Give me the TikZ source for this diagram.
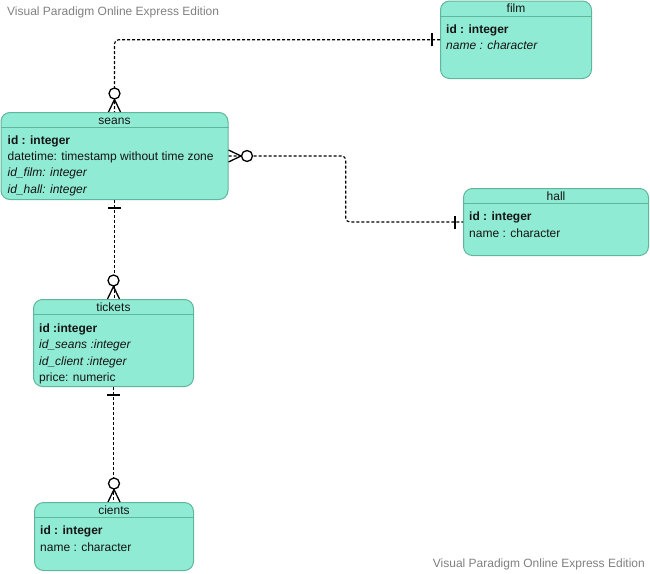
\documentclass[tikz,border=0pt]{standalone}
\usepackage{fontspec}
\setmainfont{Liberation Sans}
\usetikzlibrary{calc}

\definecolor{entityfill}{RGB}{144,235,212}
\definecolor{entityline}{RGB}{96,182,154}
\definecolor{txt}{RGB}{20,20,20}
\definecolor{markgray}{RGB}{128,128,128}

\begin{document}
\begin{tikzpicture}[x=1pt,y=-1pt]

    \tikzset{
      entity/.style={
        draw=entityline,
        fill=entityfill,
        line width=1pt,
        rounded corners=9pt,
        inner sep=0pt,
        anchor=north west,
      },
      enttitle/.style={font=\fontsize{12}{14}\selectfont, text=txt, anchor=base, inner sep=0pt},
      rows/.style={font=\fontsize{12}{16.3}\selectfont, text=txt, align=left, anchor=north west, inner sep=0pt},
      watermark/.style={font=\fontsize{12}{14}\selectfont, text=markgray, inner sep=0pt},
      rel/.style={dash pattern=on 3pt off 2pt, line width=1.1pt, rounded corners=4pt},
      one/.pic={\draw[line width=1.4pt] (8,-6.5) -- (8,6.5);},
      many/.pic={
        \draw[line width=1.3pt] (0,-6) -- (12.5,0) -- (0,6);
        \draw[line width=1.3pt, fill=white] (18.5,0) circle (5.5);
      },
    }
    \useasboundingbox (0,0) rectangle (650,573);

    % entities
    \node[entity, minimum width=151, minimum height=77.5] (film) at (440,0.5) {};
    \node[entity, minimum width=227, minimum height=87] (seans) at (0.5,112) {};
    \node[entity, minimum width=185, minimum height=67] (hall) at (463,188) {};
    \node[entity, minimum width=160, minimum height=87] (tickets) at (33,299) {};
    \node[entity, minimum width=159, minimum height=68] (cients) at (34,502) {};

    \foreach \e in {film,seans,hall,tickets,cients}
      \draw[entityline, line width=1pt] ([shift={(0,15.5)}]\e.north west) -- ([shift={(0,15.5)}]\e.north east);

    \node[enttitle] (filmT) at ([shift={(0,11.5)}]film.north) {film};
    \node[enttitle] (seansT) at ([shift={(0,12)}]seans.north) {seans};
    \node[enttitle] (hallT) at ([shift={(0,12)}]hall.north) {hall};
    \node[enttitle] (ticketsT) at ([shift={(0,12.5)}]tickets.north) {tickets};
    \node[enttitle] (cientsT) at ([shift={(0,12)}]cients.north) {cients};

    \node[rows] (filmR) at ([shift={(6,24)}]film.north west)
      {\textbf{id : integer}\\\textit{name : character}};
    \node[rows] (seansR) at ([shift={(7,23.5)}]seans.north west)
      {\textbf{id : integer}\\datetime: timestamp without time zone\\\textit{id\_film: integer}\\\textit{id\_hall: integer}};
    \node[rows] (hallR) at ([shift={(6,24)}]hall.north west)
      {\textbf{id : integer}\\name : character};
    \node[rows] (ticketsR) at ([shift={(6,24.5)}]tickets.north west)
      {\textbf{id :integer}\\\textit{id\_seans :integer}\\\textit{id\_client :integer}\\price: numeric};
    \node[rows] (cientsR) at ([shift={(6,24)}]cients.north west)
      {\textbf{id : integer}\\name : character};

    % relations
    \draw[rel] (film.west) -| (seans.north);
    \draw[rel] (seans.east) -| ($(seans.east)!.5!(hall.west)$) |- (hall.west);
    \draw[rel] (seans.south) -- (seans.south |- tickets.north);
    \draw[rel] (tickets.south) -- (tickets.south |- cients.north);

    \pic[rotate=180] at (film.west) {one};
    \pic[rotate=90] at (seans.north) {many};
    \pic at (seans.east) {many};
    \pic[rotate=180] at (hall.west) {one};
    \pic[rotate=-90] at (seans.south) {one};
    \pic[rotate=90] at (tickets.north) {many};
    \pic[rotate=-90] at (tickets.south) {one};
    \pic[rotate=90] at (cients.north) {many};

    \node[watermark, anchor=base west] (markTop) at (7,15.5) {Visual Paradigm Online Express Edition};
    \node[watermark, anchor=base east] (markBottom) at (645,567) {Visual Paradigm Online Express Edition};

\end{tikzpicture}
\end{document}
